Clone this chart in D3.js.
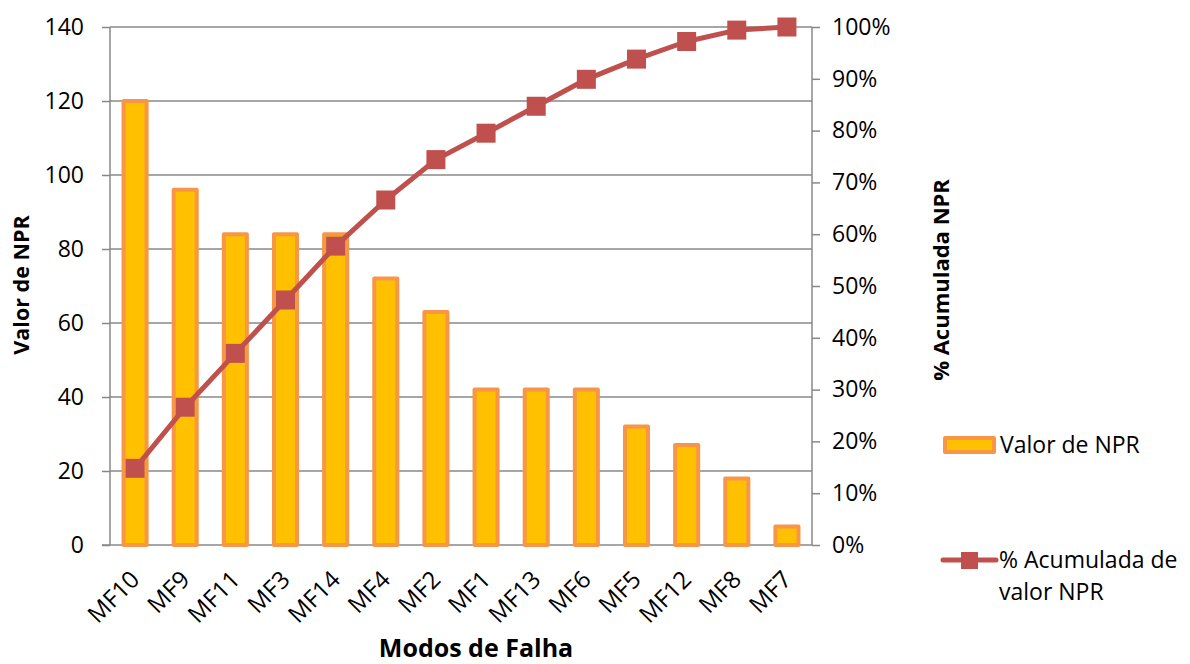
<!DOCTYPE html>
<html><head><meta charset="utf-8">
<script src="https://cdn.jsdelivr.net/npm/d3@7/dist/d3.min.js"></script>
<style>
html,body{margin:0;padding:0;background:#fff;}
svg{display:block;font-family:"Open Sans",sans-serif;}
</style></head>
<body><svg id="c" width="1190" height="664"></svg>
<script>
const categories = ["MF10","MF9","MF11","MF3","MF14","MF4","MF2","MF1","MF13","MF6","MF5","MF12","MF8","MF7"];
const npr = [120,96,84,84,84,72,63,42,42,42,32,27,18,5];
const cumPct = [14.8,26.6,37.0,47.3,57.7,66.6,74.4,79.5,84.7,89.9,93.8,97.2,99.4,100];
const leftTicks = [0,20,40,60,80,100,120,140];
const rightTicks = [0,10,20,30,40,50,60,70,80,90,100];
const seriesNames = ["Valor de NPR","% Acumulada de valor NPR"];
const axisTitles = {x:"Modos de Falha", yl:"Valor de NPR", yr:"% Acumulada NPR"};

const svg = d3.select("#c");
const L = 110, R = 812, T = 27, B = 545;
const gridC = "#888", barFill = "#FFC000", barStroke = "#F79646", lineC = "#C0504D";
const fs = 23;

const x = d3.scaleBand().domain(categories).range([L, R]).paddingInner(0.54).paddingOuter(0.27);
const yL = d3.scaleLinear().domain([0,140]).range([B, T]);
const yR = d3.scaleLinear().domain([0,100]).range([B, T]);

// gridlines
svg.append("g").selectAll("line").data(leftTicks.filter(d=>d>0)).join("line")
  .attr("x1", L).attr("x2", R).attr("y1", d=>yL(d)).attr("y2", d=>yL(d))
  .attr("stroke", gridC).attr("stroke-width", 1.5);

// left axis
const gl = svg.append("g").attr("transform", `translate(${L},0)`)
  .call(d3.axisLeft(yL).tickValues(leftTicks).tickSize(8).tickPadding(18));
gl.select(".domain").attr("stroke", gridC).attr("stroke-width", 1.5).attr("d", `M0,${B}V${T}`);
gl.selectAll(".tick line").attr("stroke", gridC).attr("stroke-width", 1.5);
gl.selectAll(".tick text").attr("font-size", fs).attr("font-family", "Open Sans").attr("fill", "#000");

// right axis
const gr = svg.append("g").attr("transform", `translate(${R},0)`)
  .call(d3.axisRight(yR).tickValues(rightTicks).tickSize(8).tickPadding(12).tickFormat(d=>d+"%"));
gr.select(".domain").attr("stroke", gridC).attr("stroke-width", 1.5).attr("d", `M0,${B}V${T}`);
gr.selectAll(".tick line").attr("stroke", gridC).attr("stroke-width", 1.5);
gr.selectAll(".tick text").attr("font-size", fs).attr("font-family", "Open Sans").attr("fill", "#000");

// bottom axis
const gb = svg.append("g").attr("transform", `translate(0,${B})`)
  .call(d3.axisBottom(x).tickSize(0).tickPadding(0));
gb.select(".domain").attr("stroke", gridC).attr("stroke-width", 1.5).attr("d", `M${L-8},0H${R}`);
gb.selectAll(".tick text").attr("font-size", 24).attr("font-family", "Open Sans").attr("fill", "#000")
  .attr("text-anchor", "end").attr("dy", 0)
  .attr("transform", `translate(6,36) rotate(-45)`);

// bars
svg.append("g").selectAll("rect").data(npr).join("rect")
  .attr("x", (d,i)=>x(categories[i]))
  .attr("y", d=>yL(d))
  .attr("width", x.bandwidth())
  .attr("height", d=>yL(0)-yL(d))
  .attr("fill", barFill).attr("stroke", barStroke).attr("stroke-width", 4)
  .attr("stroke-linejoin", "round");

// line
const cx = i => x(categories[i]) + x.bandwidth()/2;
svg.append("path").datum(cumPct)
  .attr("d", d3.line().x((d,i)=>cx(i)).y(d=>yR(d)))
  .attr("fill", "none").attr("stroke", lineC).attr("stroke-width", 5).attr("stroke-linejoin","round");
const ms = 19;
svg.append("g").selectAll("rect").data(cumPct).join("rect")
  .attr("x", (d,i)=>cx(i)-ms/2).attr("y", d=>yR(d)-ms/2)
  .attr("width", ms).attr("height", ms).attr("fill", lineC);

// axis titles
svg.append("text").attr("x", 476).attr("y", 657).attr("text-anchor", "middle")
  .attr("font-weight", "bold").attr("font-size", 25).text(axisTitles.x);
svg.append("text").attr("transform", "translate(29,285) rotate(-90)").attr("text-anchor", "middle")
  .attr("font-weight", "bold").attr("font-size", 21.5).text(axisTitles.yl);
svg.append("text").attr("transform", "translate(949,280) rotate(-90)").attr("text-anchor", "middle")
  .attr("font-weight", "bold").attr("font-size", 22).text(axisTitles.yr);

// legend
const lg = svg.append("g");
lg.append("rect").attr("x", 945).attr("y", 438).attr("width", 49).attr("height", 14)
  .attr("fill", barFill).attr("stroke", barStroke).attr("stroke-width", 4).attr("stroke-linejoin","round");
lg.append("text").attr("x", 1000).attr("y", 453).attr("font-size", fs).text(seriesNames[0]);
lg.append("line").attr("x1", 943).attr("x2", 996).attr("y1", 560).attr("y2", 560)
  .attr("stroke", lineC).attr("stroke-width", 5).attr("stroke-linecap","round");
lg.append("rect").attr("x", 961).attr("y", 552).attr("width", 17).attr("height", 17).attr("fill", lineC);
const lt = lg.append("text").attr("font-size", fs);
lt.append("tspan").attr("x", 999).attr("y", 568).text("% Acumulada de");
lt.append("tspan").attr("x", 999).attr("y", 600).text("valor NPR");
</script>
</body></html>
